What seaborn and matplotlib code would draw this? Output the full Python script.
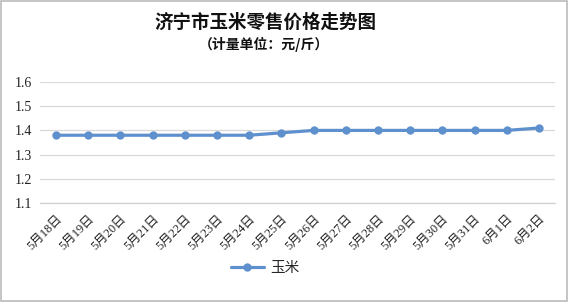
import matplotlib
matplotlib.use("Agg")
import matplotlib.pyplot as plt
import seaborn as sns
import pandas as pd
import numpy as np
from matplotlib.patches import Rectangle

dates = ["5月18日", "5月19日", "5月20日", "5月21日", "5月22日", "5月23日", "5月24日", "5月25日",
         "5月26日", "5月27日", "5月28日", "5月29日", "5月30日", "5月31日", "6月1日", "6月2日"]
corn = [1.38, 1.38, 1.38, 1.38, 1.38, 1.38, 1.38, 1.39,
        1.40, 1.40, 1.40, 1.40, 1.40, 1.40, 1.40, 1.41]
yticks = [1.1, 1.2, 1.3, 1.4, 1.5, 1.6]
series_name = "玉米"
title = "济宁市玉米零售价格走势图"
subtitle = "（计量单位：元/斤）"

sns.set_theme(style="white")
plt.rcParams['font.family'] = ['Liberation Serif', 'Noto Sans CJK SC', 'DejaVu Sans']

df = pd.DataFrame({"date": dates, "price": corn, "x": np.arange(len(dates))})

fig = plt.figure(figsize=(5.72, 3.02), dpi=100)
ax = fig.add_axes([40/572, 1-203/302, (555-40)/572, (203-82)/302])

color = "#5F90CE"
sns.lineplot(data=df, x="x", y="price", ax=ax, color=color, linewidth=2.3,
             marker="o", markersize=6, markeredgewidth=0, label=series_name)

ax.set_xlim(-0.5, len(dates) - 0.5)
ax.set_ylim(1.1, 1.6)
ax.set_yticks(yticks)
ax.set_yticklabels([f"{v:.1f}" for v in yticks], fontsize=10, color="#222222",
                   family=['Liberation Serif'])
ax.yaxis.grid(True, color="#d9d9d9", linewidth=0.9)
ax.set_axisbelow(True)
ax.set_xlabel("")
ax.set_ylabel("")
for s in ["top", "right", "left"]:
    ax.spines[s].set_visible(False)
ax.spines["bottom"].set_color("#d0d0d0")
ax.spines["bottom"].set_linewidth(0.9)
ax.tick_params(axis="y", length=0, pad=6)

ax.set_xticks(np.arange(len(dates)))
ax.set_xticklabels(dates, rotation=45, ha="right", va="top", rotation_mode="anchor",
                   fontsize=9, color="#222222", family=['Liberation Serif', 'Noto Sans CJK SC'])
ax.tick_params(axis="x", which="major", length=0, pad=7)
ax.set_xticks(np.arange(-0.5, len(dates)), minor=True)
ax.tick_params(axis="x", which="minor", length=4, color="#d0d0d0", width=0.9, direction="out")

leg = ax.legend(loc="center", bbox_to_anchor=(265/572, 1 - 268/302), bbox_transform=fig.transFigure,
                frameon=False, handlelength=2.3, handletextpad=0.4,
                prop={'family': ['Noto Sans CJK SC'], 'size': 10.5})

fig.text(265/572, 1 - 22/302, title, ha="center", va="center", fontsize=13.3, fontweight="bold",
         family=['Noto Sans CJK SC'], color="#111111")
fig.text(264/572, 1 - 44/302, subtitle, ha="center", va="center", fontsize=10, fontweight="bold",
         family=['Noto Sans CJK SC'], color="#111111")

fig.patches.append(Rectangle((1/572, 0.003), 566/572, 0.994, transform=fig.transFigure,
                             fill=False, edgecolor="#bbbbbb", linewidth=1.2))

fig.savefig("out.png", dpi=100)
